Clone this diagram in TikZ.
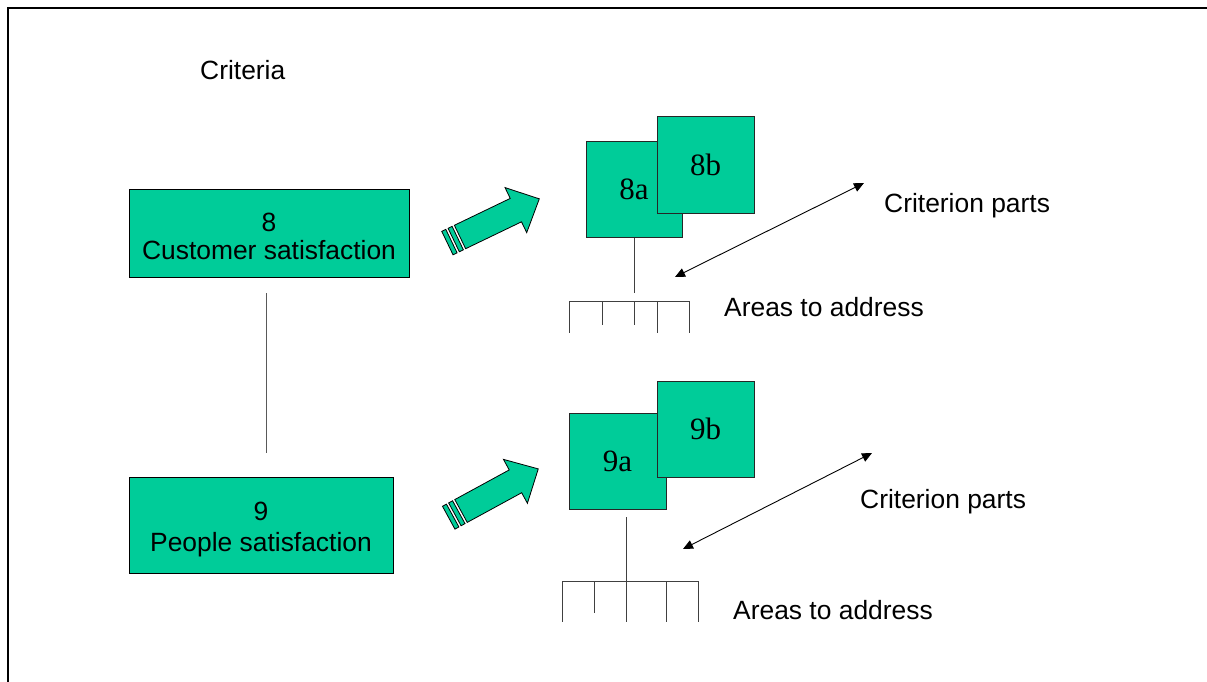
\documentclass[tikz,border=0pt]{standalone}
\usepackage{fontspec}
\setmainfont{Liberation Sans}
\newfontfamily\serifx{Liberation Serif}
\usetikzlibrary{arrows.meta}
\definecolor{boxgreen}{RGB}{0,204,153}
\newcommand\fatarrowshape[2]{%
  \begin{scope}[shift={(#1)},rotate=#2]
    \filldraw[fatarrow] (0,-13) -- (62,-13) -- (62,-25) -- (88,0) -- (62,25) -- (62,13) -- (0,13) -- cycle;
    \filldraw[fatarrow] (-7,-13) -- (-2.5,-13) -- (-2.5,13) -- (-7,13) -- cycle;
    \filldraw[fatarrow] (-14,-13) -- (-9.5,-13) -- (-9.5,13) -- (-14,13) -- cycle;
  \end{scope}}
\begin{document}
\begin{tikzpicture}[x=1pt,y=1pt,
  bigbox/.style={draw=black,line width=1pt,fill=boxgreen,inner sep=0pt},
  boxtext/.style={inner sep=0pt,align=center},
  subbox/.style={draw=black!85,line width=1pt,fill=boxgreen,inner sep=0pt,
    minimum width=97pt,minimum height=96pt,font=\serifx\fontsize{31}{34}\selectfont},
  lbl/.style={anchor=west,inner sep=0pt,font=\fontsize{26.4}{30}\selectfont},
  grayline/.style={draw=black!65,line width=1pt},
  combline/.style={draw=black!75,line width=1pt},
  dbl/.style={draw=black,line width=0.9pt,{Triangle[length=10pt,width=9pt]}-{Triangle[length=10pt,width=9pt]}},
  fatarrow/.style={fill=boxgreen,draw=black,line width=0.8pt}]
\useasboundingbox (0,0) rectangle (1207,-682);
\fill[white] (0,0) rectangle (1207,-682);
% frame
\draw[line width=2.2pt] (8,-682) -- (8,-8) -- (1207,-8);
% titles
\node[lbl] (crit) at (200,-70) {Criteria};
% main boxes
\node[bigbox,minimum width=280pt,minimum height=88pt,
  label={[boxtext,yshift=-3.5pt,font=\fontsize{26.4}{28}\selectfont]center:8\\Customer satisfaction}] (b8) at (269,-233) {};
\node[bigbox,minimum width=264pt,minimum height=96pt,
  label={[boxtext,yshift=-5pt,font=\fontsize{26.4}{31}\selectfont]center:9\\People satisfaction}] (b9) at (261,-525) {};
\coordinate (v1) at (266,-293);
\coordinate (v2) at (266,-453);
\draw[grayline] (v1) -- (v2);
% fat arrows
\fatarrowshape{460,-237}{25.7}
\fatarrowshape{461,-511}{28.6}
% criterion boxes 8
\node[subbox,minimum width=96pt,minimum height=95pt] (b8a) at (634,-189.5) {8a};
\node[subbox] (b8b) at (705.5,-165) {8b};
% criterion boxes 9
\node[subbox] (b9a) at (617.5,-461) {9a};
\node[subbox] (b9b) at (705.5,-429) {9b};
% comb 8
\coordinate (c8top) at (634,-293);
\draw[combline] (b8a.south) -- (c8top);
\coordinate (c8l) at (569,-301);
\coordinate (c8r) at (689,-301);
\draw[combline] (c8l) -- (c8r);
\draw[combline] (569,-301) -- (569,-333);
\draw[combline] (602,-301) -- (602,-325);
\draw[combline] (634,-301) -- (634,-325);
\draw[combline] (657,-301) -- (657,-333);
\draw[combline] (689,-301) -- (689,-333);
% comb 9
\coordinate (c9top) at (626,-517);
\coordinate (c9bot) at (626,-622);
\draw[combline] (c9top) -- (c9bot);
\coordinate (c9l) at (562,-581);
\coordinate (c9r) at (698,-581);
\draw[combline] (c9l) -- (c9r);
\draw[combline] (562,-581) -- (562,-622);
\draw[combline] (594,-581) -- (594,-613);
\draw[combline] (666,-581) -- (666,-622);
\draw[combline] (698,-581) -- (698,-622);
% double arrows
\coordinate (d1a) at (675,-277);
\coordinate (d1b) at (864,-183);
\draw[dbl] (d1a) -- (d1b);
\coordinate (d2a) at (683,-549);
\coordinate (d2b) at (872,-453);
\draw[dbl] (d2a) -- (d2b);
% labels
\node[lbl] (cp1) at (884,-206) {Criterion parts};
\node[lbl] (aa1) at (724,-307) {Areas to address};
\node[lbl] (cp2) at (860,-502) {Criterion parts};
\node[lbl] (aa2) at (733,-610) {Areas to address};
\end{tikzpicture}
\end{document}
